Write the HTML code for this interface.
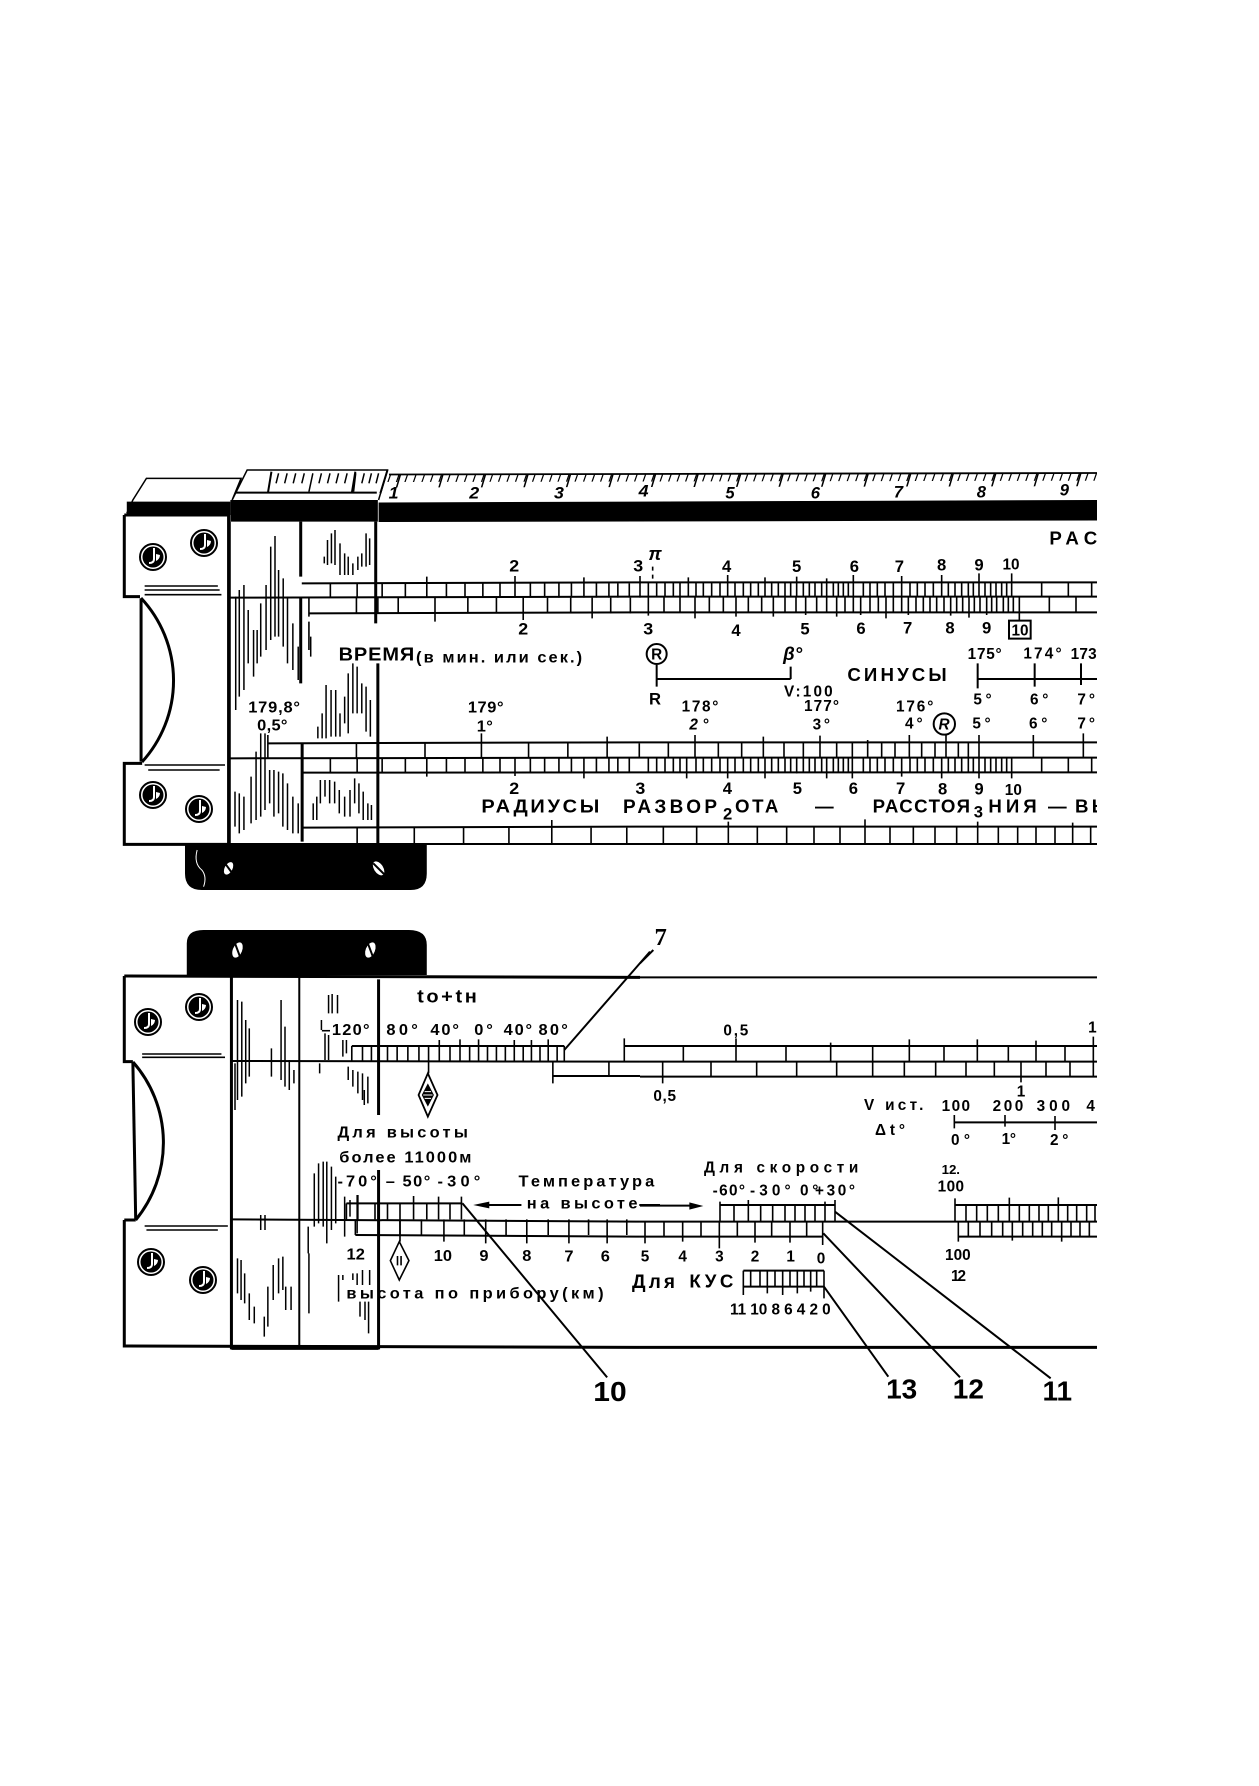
<!DOCTYPE html>
<html><head><meta charset="utf-8"><style>
html,body{margin:0;padding:0;background:#fff}
svg{display:block}
.n *{vector-effect:non-scaling-stroke}
.l{fill:none;stroke:#000;stroke-width:1.6}
.m{fill:none;stroke:#000;stroke-width:2}
.k{fill:none;stroke:#000;stroke-width:3}
.h{fill:none;stroke:#000;stroke-width:1.5}
text{font-family:"Liberation Sans",sans-serif;font-weight:bold;fill:#000;font-size:50px;text-anchor:middle}
.s{text-anchor:start}
.i{font-style:italic}
.b{font-size:56px}
.c{font-size:46px}
.r{font-size:84px}
</style></head><body>
<svg width="1259" height="1786" viewBox="0 0 1259 1786" xmlns="http://www.w3.org/2000/svg">
<defs>
<g id="sc"><circle r="13" fill="#fff" stroke="#000" stroke-width="2"/><circle r="10.5" fill="#000"/><path d="M1-9V2Q1 6-4 6" fill="none" stroke="#fff" stroke-width="2"/><path d="M3 4A7 7 0 0 0 7-2L3-3Z" fill="#fff"/></g>
</defs>
<rect width="1259" height="1786" fill="#fff"/>

<!-- TOP FIGURE: crop A -->
<g class="n" transform="translate(100,450) scale(.35714,.33333)">
<path d="M75 190L92 150 130 85H395L370 150 412 60H805L780 150" fill="#fff" stroke="#000" stroke-width="1.5"/>
<path d="M75 155H365V195H75Z" fill="#000"/>
<path d="M365 150H778V215H365Z" fill="#000"/>
<path d="M380 128H775" class="m"/>
<path d="M480 65L470 130M715 65L705 130M805 60L785 130" class="m"/>
<path d="M500 70L493 100M524 70L517 100M548 70L541 100M572 70L565 100M596 70L585 125M620 70L613 100M644 70L637 100M668 70L661 100M692 70L685 100M716 70L710 125M740 70L733 100M760 70L753 100M780 70L773 100" class="h"/>
<path d="M68 195H360V1183H68V940H118M68 195V440H112" class="k" fill="#fff"/>
<path d="M115 445V935" class="k"/>
<path d="M125 408H330M125 420H335M125 434H340M125 945H350M135 960H335" class="l"/>
<path d="M362 215V1183M562 215V380M562 440V700M566 880V1175M772 215V520M778 640V1183" class="k"/>
<path d="M360 443L1512 440" class="m"/>
<path d="M565 400L1512 397M585 490L1512 487M470 880L1512 877M360 925L1512 923M565 968L1512 967M565 1133L1512 1130M68 1182H1512" class="m"/>
<path d="M645 400V443M720 400V443M790 400V443M855 400V443M915 380V443M970 400V443M1022 400V443M1072 400V443M1120 400V443M1162 378V443M1205 400V443M1245 400V443M1285 400V443M1320 400V443M1355 382V443M1390 400V443M1425 400V443M1450 400V443M1482 400V443M1512 378V443" class="l"/>
<path d="M585 445V500M585 515V600M718 443V490M778 443V490M835 443V490M938 443V515M1030 443V490M1110 443V490M1185 443V510M1253 443V490M1318 443V490M1378 443V505M1430 443V490M1485 443V490" class="l" />
<path d="M470 855V925M718 880V925M910 880V925M1068 850V925M1200 880V925M1310 880V925M1420 860V925M1510 880V925M645 925V968M720 925V968M790 925V968M855 925V968M915 925V980M970 925V968M1022 925V968M1072 925V968M1120 925V968M1162 925V978M1205 925V968M1245 925V968M1285 925V968M1320 925V968M1355 925V985M1390 925V968M1425 925V968M1450 925V968M1482 925V968" class="l"/>
<path d="M720 1133V1180M880 1133V1180M1018 1133V1180M1145 1133V1180M1265 1110V1180M1375 1133V1180M1475 1133V1180" class="l"/>
<path d="M380 440V780M390 420V740M403 405V720M415 480V640M430 540V680M440 540V640M450 460V620M465 405V600M478 290V570M490 258V560M500 360V560M513 385V590M525 440V640M540 520V660M555 590V690M590 560V620M628 320V340M637 270V345M648 250V340M658 240V345M672 280V375M685 310V375M695 320V375M708 340V375M722 320V360M733 310V350M745 250V350M755 265V345M610 830V865M622 790V865M633 705V865M647 720V860M660 720V860M672 790V860M685 740V820M695 670V850M708 640V790M720 650V790M733 700V790M745 710V845M757 750V860M378 1025V1130M390 1030V1150M403 1040V1140M423 980V1120M437 905V1110M450 850V1100M462 850V1080M475 960V1060M487 960V1100M500 965V1090M512 970V1130M525 1000V1140M540 1040V1150M555 1060V1150M597 1060V1110M607 1040V1110M617 990V1060M630 990V1040M643 990V1060M657 995V1060M670 1020V1090M685 1040V1100M700 1020V1100M713 985V1060M725 1000V1090M737 1025V1110M750 1060V1110M760 1065V1110" class="h"/>
<path d="M238 1185V1270Q238 1320 285 1320H870Q915 1320 915 1270V1185Z" fill="#000"/>
<ellipse cx="360" cy="1255" rx="11" ry="20" fill="#fff" transform="rotate(25 360 1255)"/><path d="M350 1240L372 1272" stroke="#000" stroke-width="2" fill="none"/>
<ellipse cx="780" cy="1255" rx="13" ry="23" fill="#fff" transform="rotate(-30 780 1255)"/><path d="M765 1240L795 1272" stroke="#000" stroke-width="2" fill="none"/>
<path d="M272 1200Q262 1240 285 1260Q300 1280 290 1310" fill="none" stroke="#fff" stroke-width="1"/>
<text class="i" x="822" y="146">1</text><text class="i" x="1048" y="146">2</text><text class="i" x="1285" y="146">3</text><text class="i" x="1522" y="140">4</text>
<text x="1160" y="365">2</text><text x="1507" y="365">3</text>
<text x="1185" y="553">2</text><text x="1535" y="553">3</text>
<text class="s b" x="668" y="632" textLength="212">ВРЕМЯ</text>
<text class="s c" x="885" y="637" textLength="465">(в мин. или сек.)</text>
<text class="s c" x="415" y="788" textLength="145">179,8°</text><text class="s c" x="440" y="842" textLength="85">0,5°</text>
<text class="s c" x="1030" y="787" textLength="100">179°</text><text class="s c" x="1055" y="845" textLength="45">1°</text>
<text x="1160" y="1032">2</text><text x="1513" y="1032">3</text>
<text class="s b" x="1068" y="1088" textLength="330">РАДИУСЫ</text>
</g>
<path d="M378.6 502.5L1097 500V520.5L378.6 522Z" fill="#000"/>
<path d="M141 598A121 121 0 0 1 142 762" fill="none" stroke="#000" stroke-width="3"/>
<path d="M133 1062A122 122 0 0 1 135.700 1220" fill="none" stroke="#000" stroke-width="3"/>
<text class="s" x="623" y="813" textLength="94" style="font-size:19px">РАЗВОР</text>
<use href="#sc" x="153" y="557"/><use href="#sc" x="204" y="543"/><use href="#sc" x="153" y="795"/><use href="#sc" x="199" y="809"/>

<!-- TOP FIGURE: crop B -->
<g class="n" transform="translate(640,450) scale(.33333)">
<path d="M0 397H1371M0 440H1371M0 487H1371M0 877H1371M0 923H1371M0 967H1371M0 1130H1371M0 1182H1371" class="m"/>
<path d="M25 397V440M50 397V440M75 397V440M100 397V440M120 397V440M145 382V440M168 397V440M190 397V440M215 397V440M240 397V440M263 375V440M285 397V440M310 397V440M332 397V440M355 397V440M375 382V440M395 397V440M415 397V440M435 397V440M452 397V440M470 380V440M490 397V440M508 397V440M525 397V440M545 397V440M560 385V440M580 397V440M595 397V440M610 397V440M625 397V440M640 375V440M670 397V440M690 397V440M712 397V440M735 397V440M760 397V440M785 378V440M810 397V440M832 397V440M855 397V440M880 397V440M905 375V440M925 397V440M945 397V440M965 397V440M985 397V440M1000 397V440M1017 370V440M1035 397V440M1052 397V440M1068 397V440M1085 397V440M1100 397V440M1115 370V440M1205 397V440M1285 397V440M1355 397V440" class="l"/>
<path d="M38 350V397" class="l" stroke-dasharray="4 4"/>
<path d="M25 440V497M72 440V487M120 440V487M165 440V505M208 440V487M250 440V487M288 440V500M325 440V487M365 440V487M400 440V500M435 440V487M468 440V487M497 440V495M530 440V487M560 440V487M590 440V500M615 440V487M640 440V487M662 440V495M690 440V487M715 440V487M738 440V505M760 440V487M785 440V487M805 440V495M828 440V487M850 440V487M870 440V487M890 440V487M912 440V487M932 440V497M950 440V487M968 440V487M987 440V503M1003 440V487M1020 440V487M1040 440V495M1055 440V487M1070 440V487M1090 440V487M1105 440V487M1120 440V487M1138 440V510M1228 440V487M1308 440V487" class="l"/>
<rect x="1107" y="512" width="65" height="54" class="m"/>
<circle cx="50" cy="612" r="30" class="m" stroke-width="2"/>
<path d="M50 645V710M50 687H452M452 650V687M1013 640V715M1013 687H1371M1184 640V710M1323 640V705" class="m"/>
<circle cx="913" cy="822" r="32" class="m" stroke-width="2"/>
<path d="M85 877V923M165 855V923M235 877V923M305 877V923M370 860V923M432 877V923M490 877V923M540 857V923M590 877V923M637 877V985M683 870V923M725 877V923M765 877V923M808 855V923M845 877V923M885 877V923M918 855V923M955 877V923M985 877V923M1017 855V923M1180 855V923M1330 850V923" class="l"/>
<path d="M25 923V967M50 923V967M75 923V967M100 923V967M120 923V967M140 923V985M168 923V967M190 923V967M215 923V967M240 923V967M263 923V985M285 923V967M310 923V967M332 923V967M355 923V967M375 923V985M395 923V967M415 923V967M435 923V967M452 923V967M470 923V970M490 923V967M508 923V967M525 923V967M545 923V967M560 923V985M580 923V967M595 923V967M610 923V967M625 923V967M670 923V967M690 923V967M712 923V967M735 923V967M760 923V967M785 923V980M810 923V967M832 923V967M855 923V967M880 923V967M905 923V985M925 923V967M945 923V967M965 923V967M985 923V967M1000 923V967M1017 923V985M1035 923V967M1052 923V967M1068 923V967M1085 923V967M1100 923V967M1115 923V985M1205 923V967M1285 923V967M1355 923V967" class="l"/>
<path d="M70 1130V1182M170 1130V1182M265 1115V1182M352 1130V1182M440 1130V1182M522 1130V1182M600 1130V1182M675 1108V1182M750 1130V1182M820 1130V1182M885 1130V1182M950 1130V1182M1013 1115V1182M1075 1130V1182M1133 1130V1182M1188 1130V1182M1245 1130V1182M1298 1118V1182M1352 1130V1182" class="l"/>
<text class="i" x="270" y="145">5</text><text class="i" x="526" y="145">6</text><text class="i" x="775" y="142">7</text><text class="i" x="1024" y="142">8</text><text class="i" x="1273" y="136">9</text>
<text class="i b" x="45" y="330">π</text>
<text x="260" y="366">4</text><text x="470" y="366">5</text><text x="643" y="366">6</text><text x="778" y="366">7</text><text x="905" y="362">8</text><text x="1017" y="362">9</text><text class="c" x="1113" y="359">10</text>
<text x="288" y="558">4</text><text x="495" y="553">5</text><text x="663" y="552">6</text><text x="803" y="550">7</text><text x="930" y="550">8</text><text x="1040" y="550">9</text><text class="c" x="1140" y="556">10</text>
<text class="c" x="50" y="628">R</text><text x="45" y="763">R</text><text class="i b" x="458" y="630">β°</text>
<text class="s c" x="432" y="740" textLength="146">V:100</text>
<text class="s b" x="622" y="693" textLength="298">СИНУСЫ</text>
<text class="s c" x="983" y="627" textLength="102">175°</text><text class="s c" x="1150" y="625" textLength="115">174°</text><text class="s c" x="1292" y="627" textLength="78">173</text>
<text class="s c" x="1000" y="763" textLength="55">5°</text><text class="s c" x="1170" y="763" textLength="55">6°</text><text class="s c" x="1312" y="763" textLength="53">7°</text>
<text class="s c" x="125" y="785" textLength="110">178°</text><text class="s c i" x="148" y="838" textLength="57">2°</text>
<text class="s c" x="492" y="783" textLength="105">177°</text><text class="s c" x="518" y="838" textLength="52">3°</text>
<text class="s c" x="768" y="785" textLength="112">176°</text><text class="s c" x="795" y="835" textLength="53">4°</text>
<text class="c i" x="912" y="838">R</text>
<text class="s c" x="997" y="835" textLength="55">5°</text><text class="s c" x="1167" y="835" textLength="55">6°</text><text class="s c" x="1312" y="835" textLength="53">7°</text>
<text x="262" y="1032">4</text><text x="472" y="1032">5</text><text x="640" y="1032">6</text><text x="782" y="1032">7</text><text x="908" y="1034">8</text><text x="1017" y="1034">9</text><text class="c" x="1120" y="1035">10</text>
<text x="263" y="1108">2</text>
<text class="s b" x="285" y="1088" textLength="130">ОТА</text><text class="b" x="553" y="1088">—</text>
<text class="s b" x="698" y="1088" textLength="292">РАССТОЯ</text><text x="1015" y="1102">3</text>
<text class="s b" x="1045" y="1088" textLength="145">НИЯ</text><text class="b" x="1252" y="1088">—</text>
<text class="s b" x="1305" y="1088" textLength="105">ВЫ</text>
<text class="s b" x="1228" y="283" textLength="200">РАСС</text>
</g>

<!-- Ruler ticks -->
<path d="M389 478L1097 476.700" stroke="#000" stroke-width="8" stroke-dasharray="1.3 7.2" fill="none" transform="matrix(1,0,-.35,1,167,0)"/>
<path d="M398 481L1097 479.700" stroke="#000" stroke-width="13" stroke-dasharray="1.6 40.9" fill="none" transform="matrix(1,0,-.3,1,144,0)"/>
<path d="M389 474.500L1097 473" stroke="#000" stroke-width="1.8" fill="none"/>

<!-- LOWER FIGURE: crop C -->
<g class="n" transform="translate(100,920) scale(.35714,.33333)">
<path d="M243 165V70Q243 30 290 30H865Q915 30 915 75V165Z" fill="#000"/>
<ellipse cx="385" cy="90" rx="13" ry="24" fill="#fff" transform="rotate(20 385 90)"/><path d="M378 70L392 110" stroke="#000" stroke-width="2" fill="none"/>
<ellipse cx="757" cy="90" rx="13" ry="24" fill="#fff" transform="rotate(20 757 90)"/><path d="M750 70L764 110" stroke="#000" stroke-width="2" fill="none"/>
<path d="M68 168L1512 172M68 168V425H92M68 900V1278L1512 1282M68 900H100" class="k" stroke-width="2.2"/>
<path d="M92 425L100 900" class="k"/>
<path d="M118 402H340M118 412H350M125 918H358M130 930H330" class="l"/>
<path d="M368 172V1288M780 178V585M780 750V1288" class="k" stroke-width="3"/>
<path d="M558 172V1280" class="m" stroke-width="2.2"/><path d="M368 1285H780" class="k"/>
<path d="M365 423L1512 425M368 898L1512 905M705 378H1300M1468 378H1512M1268 468H1512M690 850H1015M715 945L1512 950" class="m"/>
<path d="M705 378V423M735 378V423M760 378V423M805 378V423M832 378V423M862 378V423M893 378V423M920 378V460M950 360V423M980 378V423M1008 358V423M1035 378V423M1060 358V423M1085 378V423M1110 378V423M1135 378V423M1160 360V423M1185 378V423M1208 360V423M1232 378V423M1255 358V423M1280 378V423M1300 378V423M1268 423V490M1425 423V468M1468 355V423" class="l"/>
<path d="M918 460L945 525 918 590 892 525Z" fill="#fff" stroke="#000" stroke-width="1.8"/>
<path d="M918 490L935 525 918 560 901 525Z" fill="#000"/><path d="M905 525H931M909 515H927M909 535H927" stroke="#fff" fill="none" stroke-width="1"/>
<path d="M690 850V898M722 825V898M770 850V898M805 850V898M840 850V965M878 828V898M915 850V898M948 830V898M980 850V898M1012 830V898" class="l"/>
<path d="M715 898V945M780 898V945M840 898V945M900 898V945M963 898V965M1020 898V945M1080 898V970M1137 898V945M1195 898V970M1255 898V945M1313 898V970M1368 898V945M1420 898V970M1475 898V945" class="l"/>
<path d="M838 965L865 1022 838 1080 813 1022Z" fill="#fff" stroke="#000" stroke-width="1.6"/>
<path d="M833 1008V1036M843 1008V1036" class="l"/>
<path d="M385 240V540M378 430V570M397 245V530M408 300V490M418 325V470M480 385V470M507 240V480M518 320V500M530 420V510M543 450V490M640 225V280M650 222V280M665 225V280M620 300V330M630 340V420M640 345V420M680 360V410M690 360V400M615 430V460M695 440V480M708 450V500M722 455V520M735 460V540M750 470V550M740 510V555M583 920V1000M600 760V920M612 730V910M625 725V920M635 725V970M648 740V930M660 770V910M685 830V950M700 840V890M720 825V940M585 1000V1180M385 1015V1120M395 1020V1140M405 1060V1150M418 1120V1200M432 1160V1210M460 1190V1250M470 1100V1220M485 1035V1140M500 1015V1120M512 1010V1110M535 1100V1170M520 1100V1170M668 1065V1145M680 1065V1080M708 1060V1080M720 1060V1095M735 1050V1095M755 1050V1095M728 1145V1190M742 1145V1200M752 1145V1240M450 885V930M462 885V930" class="h"/>
<path d="M1015 850L1420 1372M1300 390L1540 95" class="m"/>
<path d="M1180 855H1075" class="m"/><path d="M1045 855L1090 845V865Z" fill="#000"/>
<path d="M1510 855H1568" class="m"/>
<text class="s b" x="888" y="248" textLength="167">to+tн</text>
<text class="s c" x="620" y="345" textLength="135">–120°</text><text class="s c" x="802" y="345" textLength="88">80°</text><text class="s c" x="925" y="345" textLength="80">40°</text><text class="s c" x="1048" y="345" textLength="52">0°</text><text class="s c" x="1130" y="345" textLength="80">40°</text><text class="s c" x="1228" y="345" textLength="82">80°</text>
<text class="s c" x="665" y="652" textLength="365">Для высоты</text>
<text class="s c" x="670" y="727" textLength="370">более 11000м</text>
<text class="s c" x="665" y="800" textLength="110">-70°</text><text class="s c" x="800" y="800" textLength="125">– 50°</text><text class="s c" x="945" y="800" textLength="120">-30°</text>
<text class="s c" x="1172" y="800" textLength="380">Температура</text>
<text class="s c" x="1195" y="865" textLength="310">на высоте</text>
<text class="c" x="716" y="1018">12</text><text class="c" x="960" y="1023">10</text><text class="c" x="1075" y="1023">9</text><text class="c" x="1195" y="1023">8</text><text class="c" x="1313" y="1025">7</text><text class="c" x="1415" y="1025">6</text>
<text class="s c" x="690" y="1135" textLength="720">высота по прибору(км)</text>
<text class="r" x="1428" y="1443">10</text>
</g>
<path d="M140 1062" fill="none"/>
<text class="s" x="632" y="1288" textLength="43" style="font-size:19px">Для</text>
<use href="#sc" x="148" y="1022"/><use href="#sc" x="199" y="1007"/><use href="#sc" x="151" y="1262"/><use href="#sc" x="203" y="1280"/>

<!-- LOWER FIGURE: crop D -->
<g class="n" transform="translate(640,920) scale(.33333)">
<path d="M0 172H1371" class="m" stroke-width="2.2"/><path d="M0 1282H1371" class="k"/>
<path d="M0 378H1371M0 425H1371M0 470H1371M0 905H1371M240 855H585M0 950H550M945 855H1371M955 950H1371M310 1052H552M310 1100H552M943 607H1371" class="m"/>
<path d="M130 378V425M288 355V425M438 378V425M572 368V425M698 378V425M808 358V425M912 378V425M1012 358V425M1105 378V425M1188 362V425M1275 378V425M1360 350V425M68 425V490M213 425V470M350 425V470M470 425V470M590 425V470M698 425V470M793 425V470M887 425V470M978 425V470M1063 425V470M1143 425V487M1218 425V470M1290 425V470M1360 425V470" class="l"/>
<path d="M15 905V970M72 905V950M128 905V965M183 905V950M238 905V985M292 905V950M345 905V968M395 905V950M450 905V968M500 905V950M548 905V975M240 845V905M282 855V905M325 840V905M362 855V905M398 855V905M435 855V905M465 855V905M495 855V905M525 855V905M555 845V905M585 840V905" class="l"/>
<path d="M945 835V905M978 855V905M1010 855V905M1042 855V905M1075 855V905M1108 833V905M1138 855V905M1168 855V905M1197 855V905M1225 855V905M1255 832V905M1283 855V905M1310 855V905M1340 855V905M1365 855V905M955 905V965M985 905V950M1020 905V950M1055 905V950M1088 905V950M1117 905V962M1148 905V950M1178 905V950M1207 905V950M1235 905V950M1265 905V965M1293 905V950M1320 905V950M1348 905V950" class="l"/>
<path d="M943 585V625M1095 585V620M1245 588V630" class="l"/>
<path d="M310 1052V1125M332 1052V1100M360 1052V1100M382 1052V1120M405 1052V1100M428 1052V1125M450 1052V1100M472 1052V1120M492 1052V1100M512 1052V1115M530 1052V1100M552 1052V1135" class="l"/>
<path d="M0 130L40 90M585 875L1232 1375M550 940L960 1372M552 1100L745 1370" class="m"/>
<path d="M0 857H150" class="m"/><path d="M190 858L148 847V869Z" fill="#000"/>
<text x="62" y="75" style="font-family:'Liberation Serif',serif;font-size:74px">7</text>
<text class="s c" x="250" y="347" textLength="75">0,5</text><text class="c" x="1357" y="337">1</text><text class="s c" x="40" y="543" textLength="68">0,5</text>
<text class="c" x="1143" y="530">1</text>
<text class="s c" x="672" y="570" textLength="178">V ист.</text><text class="s c" x="705" y="645" textLength="90">Δt°</text>
<text class="s c" x="905" y="573" textLength="85">100</text><text class="s c" x="1058" y="573" textLength="92">200</text><text class="s c" x="1190" y="573" textLength="100">300</text><text class="c" x="1352" y="573">4</text>
<text class="s c" x="933" y="675" textLength="57">0°</text><text class="s c" x="1085" y="672" textLength="43">1°</text><text class="s c" x="1230" y="675" textLength="55">2°</text>
<text class="s c" x="192" y="758" textLength="463">Для скорости</text>
<text class="s c" x="218" y="827" textLength="97">-60°</text><text class="s c" x="330" y="827" textLength="122">-30°</text><text class="s c" x="480" y="827" textLength="55">0°</text><text class="s c" x="525" y="827" textLength="120">+30°</text>
<text class="s" x="905" y="762" textLength="55" style="font-size:40px">12.</text><text class="s c" x="893" y="815" textLength="79">100</text>
<text class="s c" x="915" y="1020" textLength="77">100</text><text class="s c" x="933" y="1083" textLength="45">12</text>
<text class="c" x="15" y="1025">5</text><text class="c" x="128" y="1025">4</text><text class="c" x="238" y="1025">3</text><text class="c" x="345" y="1025">2</text><text class="c" x="452" y="1025">1</text><text class="c" x="543" y="1030">0</text>
<text class="s b" x="148" y="1103" textLength="132">КУС</text>
<text class="s c" x="270" y="1183" textLength="302">11 10 8 6 4 2 0</text>
<text class="r" x="785" y="1436">13</text><text class="r" x="985" y="1436">12</text><text class="r" x="1252" y="1442">11</text>
</g>
<rect x="1097" y="440" width="162" height="900" fill="#fff"/>
</svg>
</body></html>
